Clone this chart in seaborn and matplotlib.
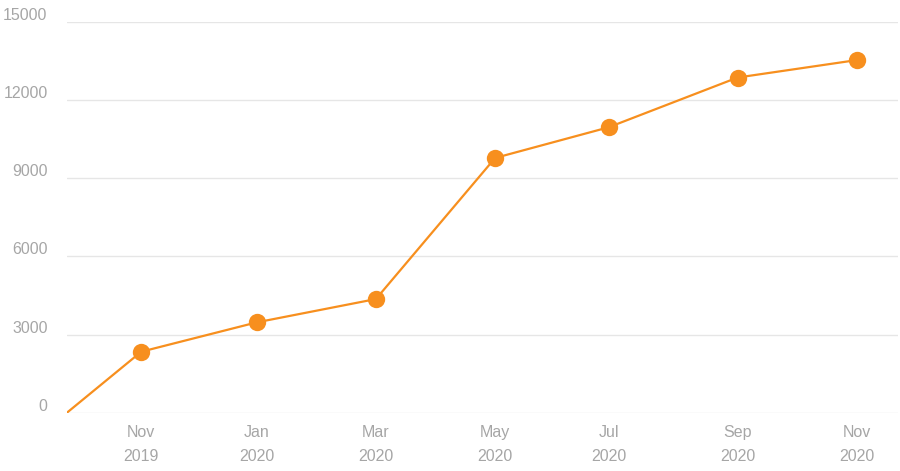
import matplotlib
matplotlib.use("Agg")
import matplotlib.pyplot as plt
import matplotlib.transforms as mtransforms
import seaborn as sns
import pandas as pd

# ---- data ----
dates = ["2019-09-24", "2019-11-01", "2019-12-30", "2020-02-29",
         "2020-04-30", "2020-06-27", "2020-09-01", "2020-11-01"]
values = [0, 2340, 3465, 4360, 9775, 10950, 12860, 13530]
tick_labels = ["Nov\n2019", "Jan\n2020", "Mar\n2020", "May\n2020",
               "Jul\n2020", "Sep\n2020", "Nov\n2020"]
y_ticks = [0, 3000, 6000, 9000, 12000, 15000]
x_end = "2020-11-22"

df = pd.DataFrame({"date": pd.to_datetime(dates), "value": values})

sns.set_style("white")
plt.rcParams["font.family"] = ["Liberation Sans", "DejaVu Sans"]

ORANGE = "#F78F1E"
GREY = "#A6A6A6"

fig = plt.figure(figsize=(9, 4.71), dpi=100)
ax = fig.add_axes([0.0744, 0.1238, 0.9233, 0.830])

sns.lineplot(data=df, x="date", y="value", ax=ax, color=ORANGE,
             linewidth=1.6, marker="o", markersize=12.5,
             markeredgewidth=0, markevery=list(range(1, len(df))))

ax.set_ylim(0, 15000)
ax.set_xlim(df["date"].iloc[0], pd.Timestamp(x_end))
ax.set_yticks(y_ticks)
ax.set_yticklabels([str(v) for v in y_ticks])
ax.set_xticks(df["date"].iloc[1:])
ax.set_xticklabels(tick_labels, linespacing=1.75)

ax.set_xlabel("")
ax.set_ylabel("")
for s in ax.spines.values():
    s.set_visible(False)
ax.grid(axis="y", color="#E6E6E6", linewidth=1)
ax.grid(axis="x", visible=False)
ax.set_axisbelow(True)
ax.tick_params(axis="both", length=0, labelsize=11.5, labelcolor=GREY)
ax.tick_params(axis="y", pad=14)
ax.tick_params(axis="x", pad=9)

offset = mtransforms.ScaledTranslation(0, -0.8 / 72, fig.dpi_scale_trans)
for lab in ax.get_yticklabels():
    lab.set_verticalalignment("bottom")
    lab.set_transform(lab.get_transform() + offset)

fig.savefig("out.png", dpi=100)
